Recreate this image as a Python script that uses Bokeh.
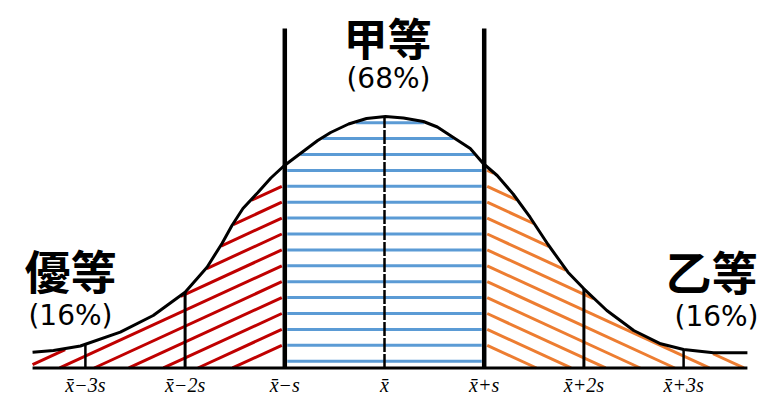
import numpy as np
from bokeh.plotting import figure
from bokeh.models import Range1d
from bokeh.core.properties import value
from bokeh.embed import file_html
from bokeh.resources import INLINE

# ---------------- data ----------------
sd_offsets = [-3, -2, -1, 0, 1, 2, 3]
tick_labels = ["x̄−3s", "x̄−2s", "x̄−s", "x̄", "x̄+s", "x̄+2s", "x̄+3s"]

grade_names = ["優等", "甲等", "乙等"]
grade_shares = ["(16%)", "(68%)", "(16%)"]

# bell curve outline: position in units of s from the mean, height above baseline
curve_x = [-3.53, -3.32, -3.05, -2.65, -2.32, -2.00, -1.78, -1.63, -1.53, -1.42,
           -1.27, -1.14, -1.01, -0.87, -0.67, -0.54, -0.36, -0.18, 0.01, 0.19,
           0.39, 0.53, 0.66, 0.86, 0.99, 1.13, 1.29, 1.46, 1.64, 1.84,
           2.00, 2.23, 2.50, 2.77, 3.00, 3.30, 3.64]
curve_h = [15.8, 17.5, 22.0, 35.8, 52.5, 75.8, 100.8, 124.5, 142.5, 159.5,
           175.5, 190.0, 202.0, 212.5, 227.5, 235.5, 244.0, 249.5, 251.5, 250.0,
           246.5, 241.0, 232.5, 219.5, 204.5, 192.5, 174.0, 150.8, 123.5, 95.8,
           79.2, 57.5, 37.5, 24.2, 18.5, 15.2, 15.2]
divider_top = 339.5  # height reached by the x̄±s dividers

# ---------------- layout / style ----------------
W, H = 763, 393
PX_PER_S = 99.7
MEAN_PAGE_X = 384.0
BASE_PAGE_Y = 367.5
ORIGIN_X, ORIGIN_Y = 0, 0   # where the figure lands in the photographed page

x_start = (ORIGIN_X - MEAN_PAGE_X) / PX_PER_S
x_end = (ORIGIN_X + W - MEAN_PAGE_X) / PX_PER_S
y_start = BASE_PAGE_Y - (ORIGIN_Y + H)
y_end = BASE_PAGE_Y - ORIGIN_Y

BLUE = "#5b9bd5"
RED = "#c00000"
ORANGE = "#ed7d31"
HATCH_STEP = 15.9
HATCH_H0 = 6.8
SLOPE = 0.46

cx = np.array(curve_x, dtype=float)
ch = np.array(curve_h, dtype=float)

p = figure(width=W, height=H, output_backend="svg", toolbar_location=None,
           x_range=Range1d(x_start, x_end), y_range=Range1d(y_start, y_end),
           x_axis_location=None, y_axis_location=None,
           min_border_left=0, min_border_right=0,
           min_border_top=0, min_border_bottom=0)
p.xgrid.visible = False
p.ygrid.visible = False
p.outline_line_color = None
p.background_fill_color = "white"
p.border_fill_color = "white"

# ---------------- blue horizontal hatch (middle band) ----------------
gap_px = 2.5 / PX_PER_S
xs = np.linspace(-1 + gap_px, 1 - gap_px, 2000)
cv = np.interp(xs, cx, ch)
blue_x, blue_y = [], []
h = HATCH_H0
while h < cv.max():
    idx = np.where(cv >= h + 1.0)[0]
    if len(idx) > 1:
        blue_x.append([xs[idx[0]], xs[idx[-1]]])
        blue_y.append([h, h])
    h += HATCH_STEP
p.multi_line(blue_x, blue_y, line_color=BLUE, line_width=3)


# ---------------- diagonal hatches (tails) ----------------
def diagonal_hatch(x0, x_far):
    xs_ = np.linspace(x0, x_far, 4000)
    cv_ = np.interp(xs_, cx, ch)
    seg_x, seg_y = [], []
    for k in range(1, 20):
        hk = HATCH_H0 + k * HATCH_STEP
        hl = hk - SLOPE * np.abs(xs_ - x0) * PX_PER_S
        m = (hl >= 0) & (hl <= cv_ - 1.0)
        d = np.diff(np.concatenate([[0], m.astype(int), [0]]))
        starts = np.where(d == 1)[0]
        stops = np.where(d == -1)[0] - 1
        for a, b in zip(starts, stops):
            if abs(xs_[b] - xs_[a]) * PX_PER_S < 6:
                continue
            seg_x.append([xs_[a], xs_[b]])
            seg_y.append([hl[a], hl[b]])
    return seg_x, seg_y


gap_h = 3.0 / PX_PER_S
rx, ry = diagonal_hatch(-1 - gap_h, cx[0])
ox, oy = diagonal_hatch(1 + gap_h, cx[-1])
p.multi_line(rx, ry, line_color=RED, line_width=3)
p.multi_line(ox, oy, line_color=ORANGE, line_width=3)

# ---------------- vertical markers ----------------
sd_arr = np.array(sd_offsets, dtype=float)
tops = np.interp(sd_arr, cx, ch)
outer2 = [i for i, s in enumerate(sd_offsets) if abs(s) == 2]
outer3 = [i for i, s in enumerate(sd_offsets) if abs(s) == 3]
inner = [i for i, s in enumerate(sd_offsets) if abs(s) == 1]
mid = [i for i, s in enumerate(sd_offsets) if s == 0]

p.segment(x0=sd_arr[outer3], y0=[0] * len(outer3), x1=sd_arr[outer3], y1=tops[outer3],
          line_color="black", line_width=2.5)
p.segment(x0=sd_arr[outer2], y0=[0] * len(outer2), x1=sd_arr[outer2], y1=tops[outer2],
          line_color="black", line_width=3)
p.segment(x0=sd_arr[mid], y0=[0] * len(mid), x1=sd_arr[mid], y1=tops[mid],
          line_color="black", line_width=2.5, line_dash="14 2")
p.segment(x0=sd_arr[inner], y0=[0] * len(inner), x1=sd_arr[inner], y1=[divider_top] * len(inner),
          line_color="black", line_width=4.5)

# baseline and curve
p.segment(x0=[cx[0]], y0=[0], x1=[cx[-1]], y1=[0], line_color="black", line_width=3)
p.line(cx, ch, line_color="black", line_width=3, line_join="round")

# ---------------- texts ----------------
name_x = [-3.15, 0.03, 3.28]
name_y = [99.0, 331.0, 98.5]
name_size = ["46px", "44px", "46px"]
share_x = [-3.15, 0.04, 3.33]
share_y = [52.5, 289.5, 51.5]

p.text(x=name_x, y=name_y, text=grade_names, text_font=value("Noto Sans CJK TC"),
       text_font_style="bold", text_font_size=name_size, text_align="center",
       text_baseline="middle", text_color="black")
p.text(x=share_x, y=share_y, text=grade_shares, text_font=value("DejaVu Sans"),
       text_font_size="28px", text_align="center", text_baseline="middle",
       text_color="black")

# tick labels under the baseline at x̄ ± k·s
tick_y = [-16.5] * len(sd_offsets)
p.text(x=sd_offsets, y=tick_y, text=tick_labels, text_font=value("Liberation Serif"),
       text_font_style="italic", text_font_size="20px", text_align="center",
       text_baseline="alphabetic", text_color="black")

open("out.html", "w").write(file_html(p, INLINE))
